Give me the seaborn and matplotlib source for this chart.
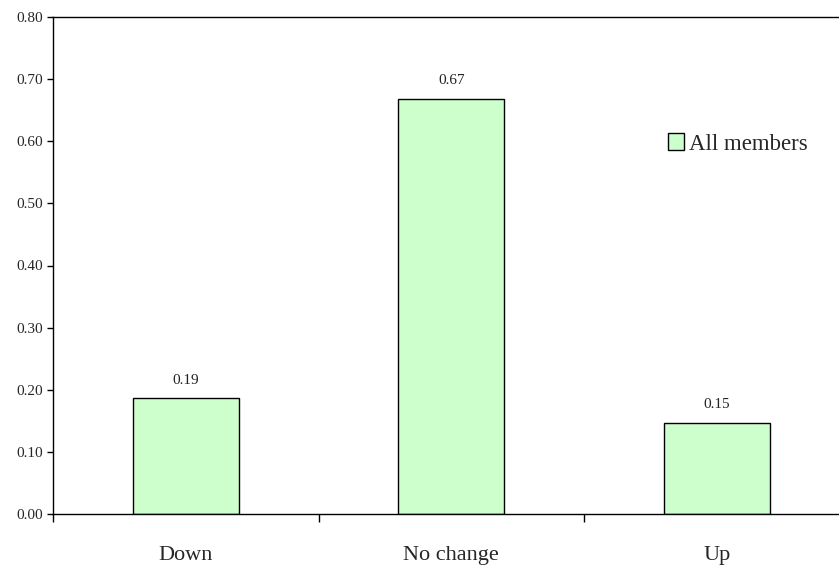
import matplotlib
matplotlib.use("Agg")
import matplotlib.pyplot as plt
import matplotlib.ticker as mticker
import seaborn as sns
import pandas as pd

categories = ["Down", "No change", "Up"]
shares = [0.186, 0.668, 0.147]
series_name = "All members"
y_ticks = [0.0, 0.1, 0.2, 0.3, 0.4, 0.5, 0.6, 0.7, 0.8]

sns.set_theme(style="white")
plt.rcParams["font.family"] = ["Liberation Serif", "DejaVu Serif"]

df = pd.DataFrame({"category": categories, "share": shares})

fig = plt.figure(figsize=(8.39, 5.66), dpi=100)
ax = fig.add_axes([53 / 839, 1 - 514 / 566, 796.5 / 839, 497 / 566])

sns.barplot(data=df, x="category", y="share", ax=ax, color="#CCFFCC",
            edgecolor="black", linewidth=1.0, width=0.4, saturation=1,
            label=series_name)

for patch, val in zip(ax.patches, shares):
    ax.annotate(f"{val:.2f}", (patch.get_x() + patch.get_width() / 2, val),
                xytext=(0, 13), textcoords="offset points", ha="center",
                va="center", fontsize=11, color="#222222")

ax.set_ylim(0, 0.8)
ax.set_xlim(-0.5, 2.5)
ax.set_yticks(y_ticks)
ax.yaxis.set_major_formatter(mticker.FormatStrFormatter("%.2f"))
ax.tick_params(axis="y", which="major", direction="out", length=4, width=1,
               color="black", labelsize=11, pad=3, left=True)

# category labels without ticks; boundary ticks as minor ticks
ax.tick_params(axis="x", which="major", length=0, labelsize=16, pad=23)
ax.set_xticks([-0.5, 0.5, 1.5, 2.5], minor=True)
ax.tick_params(axis="x", which="minor", direction="out", length=6, width=1,
               color="black", bottom=True)
ax.set_xlabel("")
ax.set_ylabel("")

for side in ["left", "top", "bottom", "right"]:
    ax.spines[side].set_visible(True)
    ax.spines[side].set_color("black")
    ax.spines[side].set_linewidth(1.0)

leg = ax.legend(loc="center left", bbox_to_anchor=(668 / 839, 1 - 144 / 566),
                bbox_transform=fig.transFigure, frameon=False, fontsize=16.5,
                handlelength=0.7, handleheight=0.7, handletextpad=0.2,
                borderaxespad=0, borderpad=0)

fig.savefig("out.png", dpi=100)
